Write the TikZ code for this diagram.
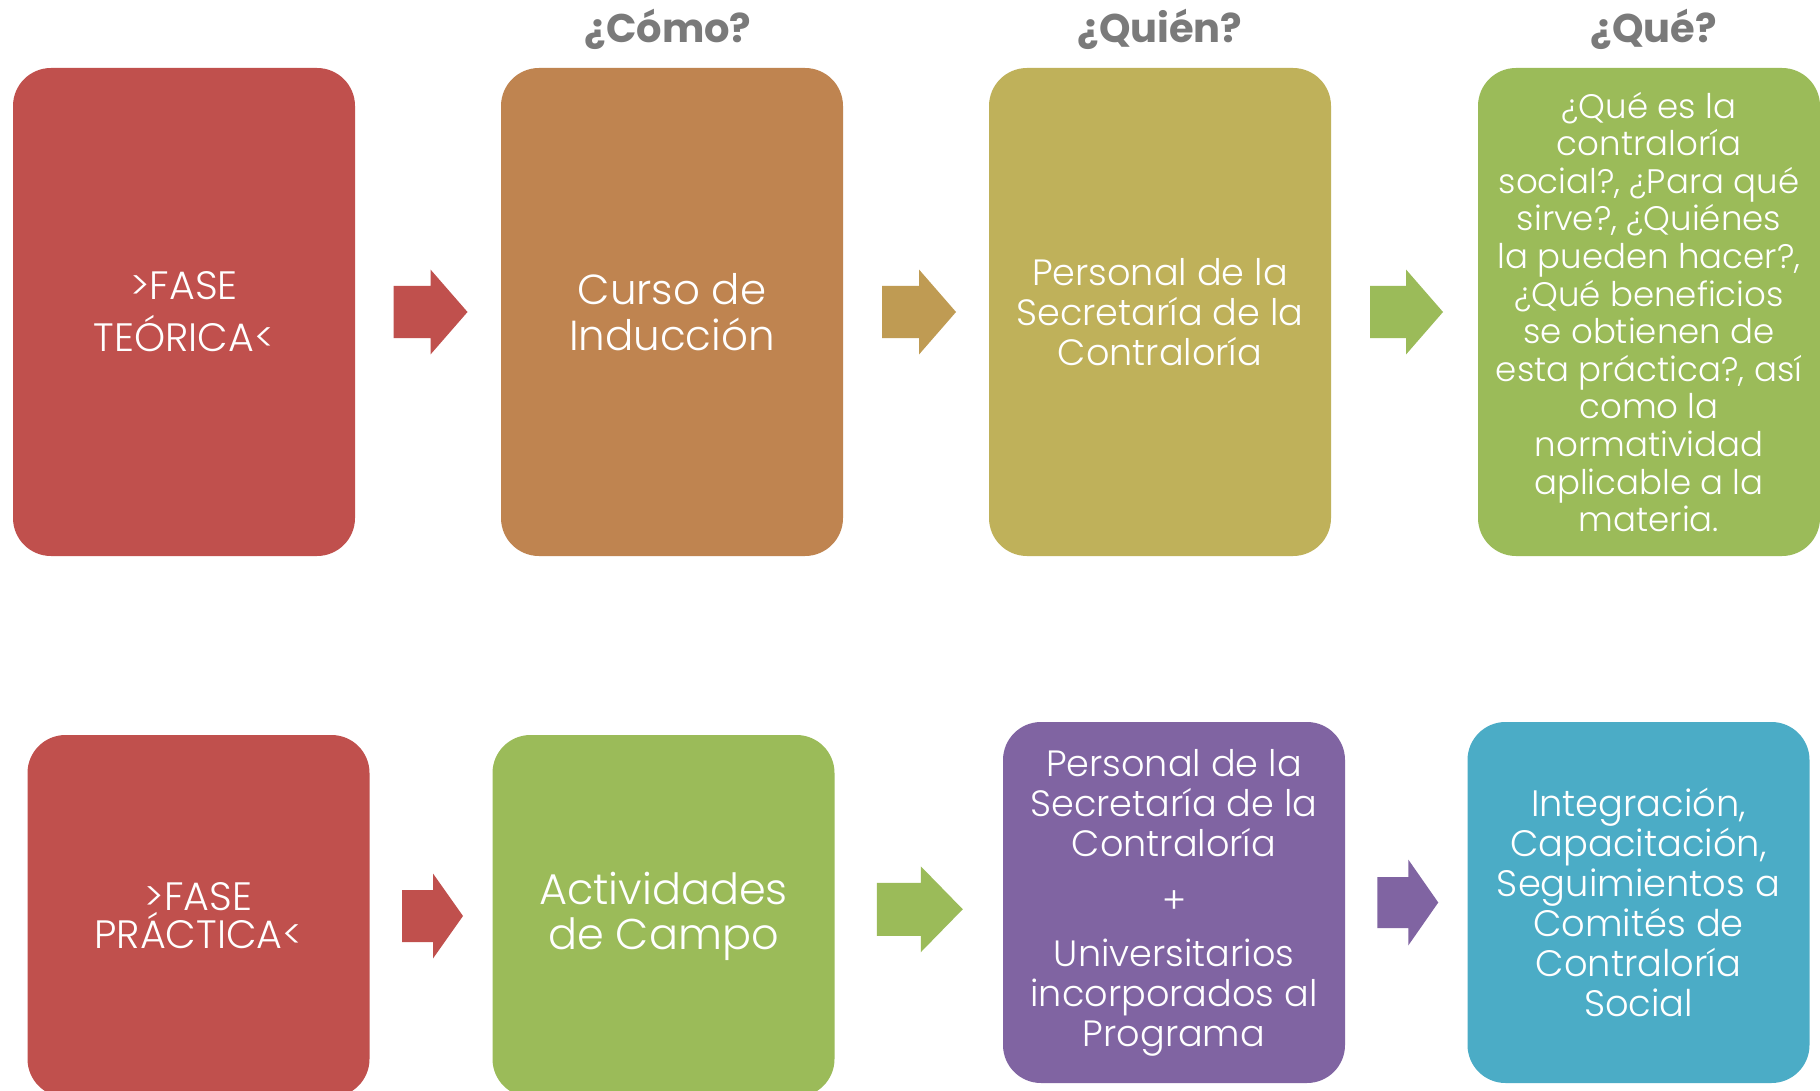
\documentclass[tikz,border=0pt]{standalone}
\usepackage{fontspec}
\newfontfamily\lightf{Poppins}[UprightFont=* Light]
\newfontfamily\boldf{Poppins}[UprightFont=* Bold]
\usetikzlibrary{calc}
\definecolor{cred}{HTML}{C0504D}
\definecolor{cbrown}{HTML}{BF8450}
\definecolor{colive}{HTML}{BFB15A}
\definecolor{ctan}{HTML}{BF9B53}
\definecolor{cgreen}{HTML}{9BBB59}
\definecolor{cpurple}{HTML}{8064A2}
\definecolor{cteal}{HTML}{4BACC6}
\definecolor{cgray}{HTML}{7A7A7A}
\tikzset{
  box/.style={rounded corners=19pt, minimum width=171pt, inner sep=0pt, text=white, align=center},
  toprow/.style={box, minimum height=244pt},
  botrow/.style={box, minimum height=181pt},
  hdr/.style={text=cgray, font=\boldf\fontsize{20}{22}\selectfont, inner sep=0pt},
}
% #1 centre, #2 length, #3 head length, #4 colour, #5 shaft half width, #6 head half width
\newcommand\blockarr[6]{%
  \pgfmathsetmacro\bxa{-#2/2}%
  \pgfmathsetmacro\bxb{#2/2-#3}%
  \pgfmathsetmacro\bxc{#2/2}%
  \begin{scope}[shift={(#1)}]
    \fill[#4] (\bxa,-#5) -- (\bxb,-#5) -- (\bxb,-#6) -- (\bxc,0) -- (\bxb,#6) -- (\bxb,#5) -- (\bxa,#5) -- cycle;
  \end{scope}}
\begin{document}
\begin{tikzpicture}[x=0.5pt,y=-0.5pt]
\path[use as bounding box, clip] (0,0) rectangle (1820,1091);
\fill[white] (0,0) rectangle (1820,1091);
% top row
\node[toprow, fill=cred, font=\lightf\fontsize{19.8}{26}\selectfont] (b1) at (184,312) {>FASE\\TEÓRICA<};
\node[toprow, fill=cbrown, font=\lightf\fontsize{21}{23}\selectfont] (b2) at (672,312) {Curso de\\Inducción};
\node[toprow, fill=colive, font=\lightf\fontsize{18.3}{20}\selectfont] (b3) at (1160,312) {Personal de la\\Secretaría de la\\Contraloría};
\node[toprow, fill=cgreen, font=\lightf\fontsize{17}{18.8}\selectfont] (b4) at (1649,312) {¿Qué es la\\contraloría\\social?, ¿Para qué\\sirve?, ¿Quiénes\\la pueden hacer?,\\¿Qué beneficios\\se obtienen de\\esta práctica?, así\\como la\\normatividad\\aplicable a la\\materia.};
% headers
\node[hdr, anchor=base] (h2) at ($(b2.north)+(-4,-25)$) {¿Cómo?};
\node[hdr, anchor=base] (h3) at ($(b3.north)+(0,-25)$) {¿Quién?};
\node[hdr, anchor=base] (h4) at ($(b4.north)+(5,-25)$) {¿Qué?};
% bottom row
\node[botrow, fill=cred, font=\lightf\fontsize{19.8}{19}\selectfont] (b5) at (198.5,916) {>FASE\\PRÁCTICA<};
\node[botrow, fill=cgreen, font=\lightf\fontsize{21.5}{22.5}\selectfont] (b6) at (663.5,916) {Actividades\\de Campo};
\node[box, minimum height=180.5pt, fill=cpurple, font=\lightf\fontsize{18.3}{20}\selectfont] (b7) at (1174,902.5) {Personal de la\\Secretaría de la\\Contraloría\\[8.5pt]+\\[6.5pt]Universitarios\\incorporados al\\Programa};
\node[box, minimum height=180.5pt, fill=cteal, font=\lightf\fontsize{18.4}{20}\selectfont] (b8) at (1638.5,902.5) {Integración,\\Capacitación,\\Seguimientos a\\Comités de\\Contraloría\\Social};
% arrows
\coordinate (a1) at ($(b1.east)!0.5!(b2.west)+(2.5,0)$);
\coordinate (a2) at ($(b2.east)!0.5!(b3.west)+(3,0)$);
\coordinate (a3) at ($(b3.east)!0.5!(b4.west)+(2,0)$);
\coordinate (a4) at ($(b5.east)!0.5!(b6.west)+(1.5,0)$);
\coordinate (a5) at ($(b6.east)!0.5!(b7.west)+(1,0)$);
\coordinate (a6) at ($(b7.east)!0.5!(b8.west)+(1.5,0)$);
\blockarr{a1}{74}{37}{cred}{26}{42.5}
\blockarr{a2}{74}{37}{ctan}{26}{42.5}
\blockarr{a3}{73}{37}{cgreen}{26}{42.5}
\blockarr{a4}{61}{30}{cred}{26}{42.5}
\blockarr{a5}{86}{42}{cgreen}{26.5}{43}
\blockarr{a6}{61}{30}{cpurple}{25.5}{43}
\end{tikzpicture}
\end{document}
